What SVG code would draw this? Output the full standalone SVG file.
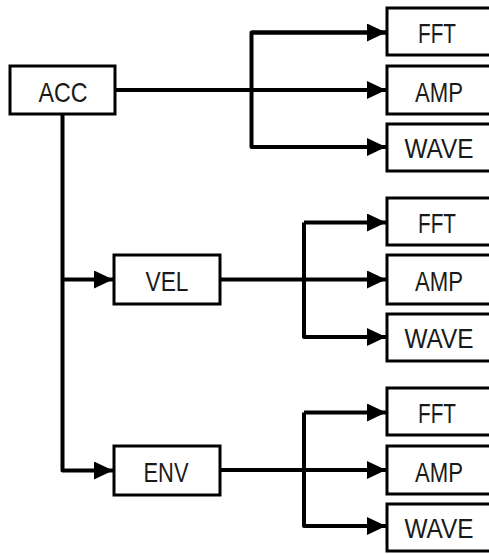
<svg xmlns="http://www.w3.org/2000/svg" width="489" height="554" viewBox="0 0 489 554">
<defs>
<style>
.box{fill:#fff;stroke:#000;stroke-width:3}
.lbl{font-family:"Liberation Sans",Arial,sans-serif;font-size:28px;fill:#1a1a1a;text-anchor:middle}
.con{fill:none;stroke:#000;stroke-width:4;stroke-linejoin:round}
</style>
<marker id="arr" markerUnits="userSpaceOnUse" markerWidth="20" markerHeight="20" refX="19" refY="9" orient="auto">
<path d="M0,0 L19,9 L0,18 Z" fill="#000"/>
</marker>
</defs>
<rect width="489" height="554" fill="#fff"/>
<g id="connectors">
<path class="con" d="M115,90 H386" marker-end="url(#arr)"/>
<path class="con" d="M386,32.5 H251.5 V147 H386" marker-end="url(#arr)"/>
<path class="con" d="M251.5,32.5 H386" marker-end="url(#arr)"/>
<path class="con" d="M62.5,114 V470.5 H113" marker-end="url(#arr)"/>
<path class="con" d="M62.5,279.5 H113" marker-end="url(#arr)"/>
<path class="con" d="M220,279.5 H386" marker-end="url(#arr)"/>
<path class="con" d="M304,222.5 V337 H386" marker-end="url(#arr)"/>
<path class="con" d="M304,222.5 H386" marker-end="url(#arr)"/>
<path class="con" d="M220,470 H386" marker-end="url(#arr)"/>
<path class="con" d="M304,412.5 V526 H386" marker-end="url(#arr)"/>
<path class="con" d="M304,412.5 H386" marker-end="url(#arr)"/>
</g>
<g id="acc"><rect class="box" x="10" y="66" width="105" height="48"/><text class="lbl" x="63" y="101.5" textLength="49" lengthAdjust="spacingAndGlyphs">ACC</text></g>
<g id="vel"><rect class="box" x="114" y="255" width="106" height="49"/><text class="lbl" x="167" y="291" textLength="43" lengthAdjust="spacingAndGlyphs">VEL</text></g>
<g id="env"><rect class="box" x="114" y="446" width="106" height="49"/><text class="lbl" x="166" y="482" textLength="45" lengthAdjust="spacingAndGlyphs">ENV</text></g>
<g id="acc-fft"><rect class="box" x="387" y="8" width="105" height="47"/><text class="lbl" x="437" y="43" textLength="38" lengthAdjust="spacingAndGlyphs">FFT</text></g>
<g id="acc-amp"><rect class="box" x="387" y="66" width="105" height="48"/><text class="lbl" x="439" y="101.5" textLength="48" lengthAdjust="spacingAndGlyphs">AMP</text></g>
<g id="acc-wave"><rect class="box" x="387" y="124" width="105" height="47"/><text class="lbl" x="439" y="158" textLength="69" lengthAdjust="spacingAndGlyphs">WAVE</text></g>
<g id="vel-fft"><rect class="box" x="387" y="198" width="105" height="47"/><text class="lbl" x="437" y="233" textLength="38" lengthAdjust="spacingAndGlyphs">FFT</text></g>
<g id="vel-amp"><rect class="box" x="387" y="255" width="105" height="49"/><text class="lbl" x="439" y="291" textLength="48" lengthAdjust="spacingAndGlyphs">AMP</text></g>
<g id="vel-wave"><rect class="box" x="387" y="314" width="105" height="47"/><text class="lbl" x="439" y="348" textLength="69" lengthAdjust="spacingAndGlyphs">WAVE</text></g>
<g id="env-fft"><rect class="box" x="387" y="388" width="105" height="47"/><text class="lbl" x="437" y="423" textLength="38" lengthAdjust="spacingAndGlyphs">FFT</text></g>
<g id="env-amp"><rect class="box" x="387" y="446" width="105" height="48"/><text class="lbl" x="439" y="481.5" textLength="48" lengthAdjust="spacingAndGlyphs">AMP</text></g>
<g id="env-wave"><rect class="box" x="387" y="504" width="105" height="47"/><text class="lbl" x="439" y="538" textLength="69" lengthAdjust="spacingAndGlyphs">WAVE</text></g>
</svg>
